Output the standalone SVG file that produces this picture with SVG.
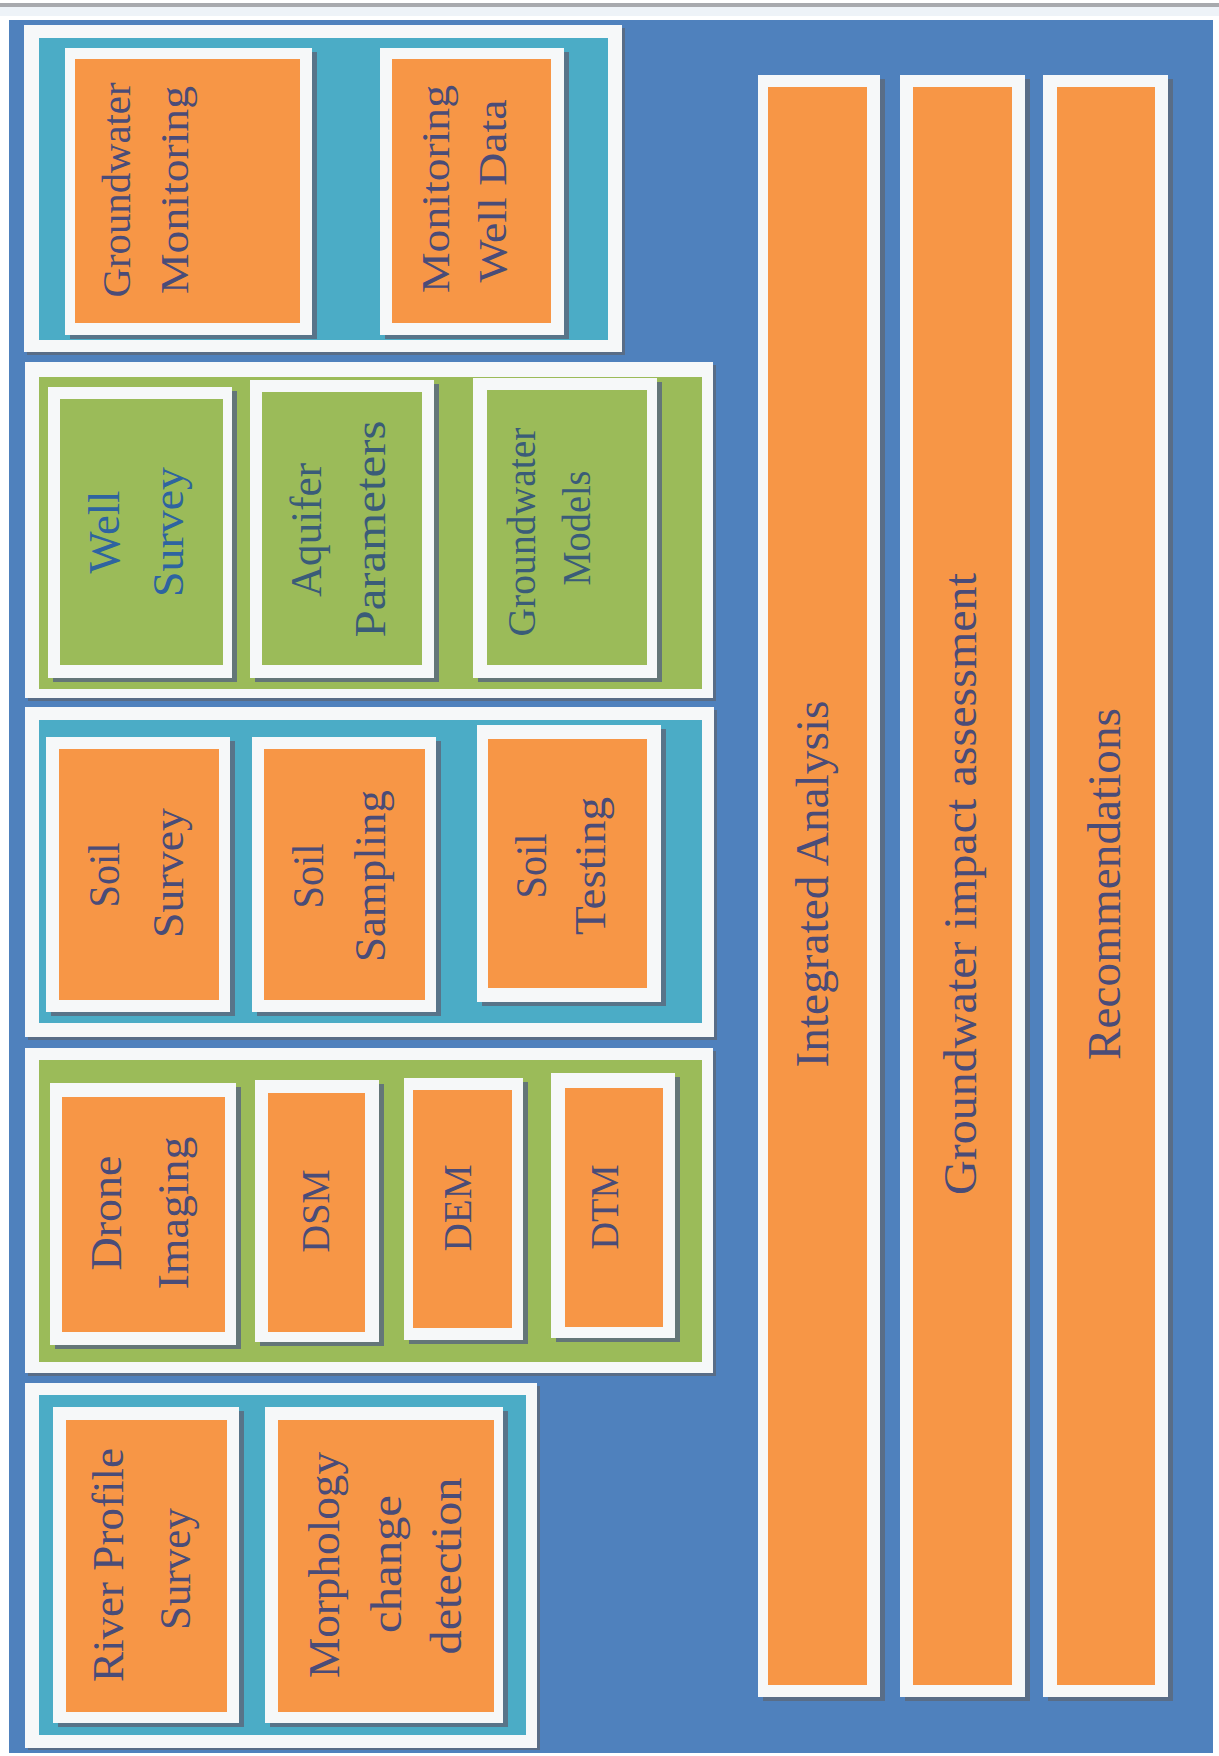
<svg xmlns="http://www.w3.org/2000/svg" width="1219" height="1756" viewBox="0 0 1219 1756">
<style>
.frame{fill:#F6F8F9}
.sh{fill:#5A6A7E;opacity:0.85}
.org{fill:#F79646}
.grn{fill:#9BBB59}
.teal{fill:#4BACC6}
.t{font-family:"Liberation Serif","Times New Roman",serif;fill:#4A4C78;text-anchor:middle}
.tb{fill:#2E64A0}
.tg{fill:#3A5C78}
</style>
<rect x="0" y="0" width="1219" height="1756" fill="#FFFFFF"/>
<rect x="0" y="3" width="1219" height="4" fill="#A8AAAE"/>
<rect x="0" y="7" width="1219" height="9" fill="#EEF3F8"/>
<rect x="9" y="20" width="1204" height="1733" fill="#4F81BD"/>

<g id="group1">
<rect class="sh" x="27" y="28" width="598" height="327"/>
<rect class="frame" x="24" y="25" width="598" height="327"/>
<rect class="teal" x="39" y="38" width="569" height="302"/>
</g>
<g id="group2">
<rect class="sh" x="28" y="365" width="688" height="336"/>
<rect class="frame" x="25" y="362" width="688" height="336"/>
<rect class="grn" x="39" y="377" width="663" height="312"/>
</g>
<g id="group3">
<rect class="sh" x="28" y="710" width="689" height="330"/>
<rect class="frame" x="25" y="707" width="689" height="330"/>
<rect class="teal" x="39" y="720" width="663" height="303"/>
</g>
<g id="group4">
<rect class="sh" x="28" y="1051" width="688" height="325"/>
<rect class="frame" x="25" y="1048" width="688" height="325"/>
<rect class="grn" x="39" y="1060" width="663" height="302"/>
</g>
<g id="group5">
<rect class="sh" x="28" y="1386" width="512" height="364"/>
<rect class="frame" x="25" y="1383" width="512" height="365"/>
<rect class="teal" x="39" y="1395" width="487" height="340"/>
</g>

<g id="groundwater-monitoring">
<rect class="sh" x="70" y="52" width="247" height="287"/>
<rect class="frame" x="65" y="48" width="247" height="287"/>
<rect class="org" x="75" y="59" width="225" height="264"/>
<text class="t" font-size="41" transform="translate(130,190) rotate(-90)" textLength="215" lengthAdjust="spacingAndGlyphs">Groundwater</text>
<text class="t" font-size="41" transform="translate(188,190) rotate(-90)" textLength="208" lengthAdjust="spacingAndGlyphs">Monitoring</text>
</g>
<g id="monitoring-well-data">
<rect class="sh" x="385" y="52" width="184" height="287"/>
<rect class="frame" x="380" y="48" width="184" height="287"/>
<rect class="org" x="392" y="59" width="159" height="264"/>
<text class="t" font-size="41" transform="translate(449,189) rotate(-90)" textLength="208" lengthAdjust="spacingAndGlyphs">Monitoring</text>
<text class="t" font-size="41" transform="translate(506,191) rotate(-90)" textLength="183" lengthAdjust="spacingAndGlyphs">Well Data</text>
</g>

<g id="well-survey">
<rect class="sh" x="53" y="391" width="184" height="291"/>
<rect class="frame" x="48" y="387" width="184" height="291"/>
<rect class="grn" x="60" y="399" width="163" height="266"/>
<text class="t tb" font-size="44" transform="translate(119,532) rotate(-90)" textLength="83" lengthAdjust="spacingAndGlyphs">Well</text>
<text class="t tb" font-size="44" transform="translate(183,532) rotate(-90)" textLength="130" lengthAdjust="spacingAndGlyphs">Survey</text>
</g>
<g id="aquifer-parameters">
<rect class="sh" x="255" y="384" width="184" height="298"/>
<rect class="frame" x="250" y="380" width="184" height="298"/>
<rect class="grn" x="262" y="392" width="160" height="273"/>
<text class="t tg" font-size="44" transform="translate(321,530) rotate(-90)" textLength="134" lengthAdjust="spacingAndGlyphs">Aquifer</text>
<text class="t tg" font-size="44" transform="translate(385,529) rotate(-90)" textLength="217" lengthAdjust="spacingAndGlyphs">Parameters</text>
</g>
<g id="groundwater-models">
<rect class="sh" x="478" y="382" width="184" height="300"/>
<rect class="frame" x="473" y="378" width="184" height="300"/>
<rect class="grn" x="487" y="390" width="160" height="275"/>
<text class="t tg" font-size="39" transform="translate(535,532) rotate(-90)" textLength="209" lengthAdjust="spacingAndGlyphs">Groundwater</text>
<text class="t tg" font-size="39" transform="translate(590,528) rotate(-90)" textLength="115" lengthAdjust="spacingAndGlyphs">Models</text>
</g>

<g id="soil-survey">
<rect class="sh" x="51" y="741" width="184" height="275"/>
<rect class="frame" x="46" y="737" width="184" height="275"/>
<rect class="org" x="59" y="749" width="160" height="251"/>
<text class="t" font-size="44" transform="translate(119,875) rotate(-90)" textLength="65" lengthAdjust="spacingAndGlyphs">Soil</text>
<text class="t" font-size="44" transform="translate(183,873) rotate(-90)" textLength="130" lengthAdjust="spacingAndGlyphs">Survey</text>
</g>
<g id="soil-sampling">
<rect class="sh" x="257" y="741" width="184" height="275"/>
<rect class="frame" x="252" y="737" width="184" height="275"/>
<rect class="org" x="264" y="749" width="161" height="251"/>
<text class="t" font-size="44" transform="translate(323,876) rotate(-90)" textLength="65" lengthAdjust="spacingAndGlyphs">Soil</text>
<text class="t" font-size="44" transform="translate(385,876) rotate(-90)" textLength="172" lengthAdjust="spacingAndGlyphs">Sampling</text>
</g>
<g id="soil-testing">
<rect class="sh" x="482" y="729" width="184" height="277"/>
<rect class="frame" x="477" y="725" width="184" height="277"/>
<rect class="org" x="488" y="739" width="159" height="249"/>
<text class="t" font-size="44" transform="translate(546,866) rotate(-90)" textLength="65" lengthAdjust="spacingAndGlyphs">Soil</text>
<text class="t" font-size="44" transform="translate(605,866) rotate(-90)" textLength="138" lengthAdjust="spacingAndGlyphs">Testing</text>
</g>

<g id="drone-imaging">
<rect class="sh" x="55" y="1087" width="186" height="262"/>
<rect class="frame" x="50" y="1083" width="186" height="262"/>
<rect class="org" x="62" y="1097" width="163" height="235"/>
<text class="t" font-size="45" transform="translate(121,1213) rotate(-90)" textLength="115" lengthAdjust="spacingAndGlyphs">Drone</text>
<text class="t" font-size="45" transform="translate(188,1213) rotate(-90)" textLength="153" lengthAdjust="spacingAndGlyphs">Imaging</text>
</g>
<g id="dsm">
<rect class="sh" x="260" y="1084" width="124" height="262"/>
<rect class="frame" x="255" y="1080" width="124" height="262"/>
<rect class="org" x="268" y="1093" width="97" height="239"/>
<text class="t" font-size="40" transform="translate(329,1211) rotate(-90)" textLength="83" lengthAdjust="spacingAndGlyphs">DSM</text>
</g>
<g id="dem">
<rect class="sh" x="409" y="1082" width="119" height="262"/>
<rect class="frame" x="404" y="1078" width="119" height="262"/>
<rect class="org" x="413" y="1090" width="99" height="238"/>
<text class="t" font-size="40" transform="translate(471,1208) rotate(-90)" textLength="87" lengthAdjust="spacingAndGlyphs">DEM</text>
</g>
<g id="dtm">
<rect class="sh" x="556" y="1077" width="124" height="265"/>
<rect class="frame" x="551" y="1073" width="124" height="265"/>
<rect class="org" x="565" y="1088" width="98" height="239"/>
<text class="t" font-size="40" transform="translate(618,1207) rotate(-90)" textLength="85" lengthAdjust="spacingAndGlyphs">DTM</text>
</g>

<g id="river-profile-survey">
<rect class="sh" x="58" y="1411" width="186" height="316"/>
<rect class="frame" x="53" y="1407" width="186" height="316"/>
<rect class="org" x="66" y="1420" width="161" height="292"/>
<text class="t" font-size="45" transform="translate(123,1565) rotate(-90)" textLength="234" lengthAdjust="spacingAndGlyphs">River Profile</text>
<text class="t" font-size="45" transform="translate(190,1569) rotate(-90)" textLength="122" lengthAdjust="spacingAndGlyphs">Survey</text>
</g>
<g id="morphology-change-detection">
<rect class="sh" x="270" y="1411" width="238" height="316"/>
<rect class="frame" x="265" y="1407" width="238" height="316"/>
<rect class="org" x="278" y="1420" width="216" height="292"/>
<text class="t" font-size="45" transform="translate(339,1565) rotate(-90)" textLength="226" lengthAdjust="spacingAndGlyphs">Morphology</text>
<text class="t" font-size="45" transform="translate(401,1564) rotate(-90)" textLength="138" lengthAdjust="spacingAndGlyphs">change</text>
<text class="t" font-size="45" transform="translate(461,1566) rotate(-90)" textLength="177" lengthAdjust="spacingAndGlyphs">detection</text>
</g>

<g id="integrated-analysis">
<rect class="sh" x="763" y="79" width="122" height="1622"/>
<rect class="frame" x="758" y="75" width="122" height="1622"/>
<rect class="org" x="768" y="87" width="99" height="1598"/>
<text class="t" font-size="47" transform="translate(828,884) rotate(-90)" textLength="367" lengthAdjust="spacingAndGlyphs">Integrated Analysis</text>
</g>
<g id="groundwater-impact-assessment">
<rect class="sh" x="905" y="79" width="125" height="1622"/>
<rect class="frame" x="900" y="75" width="125" height="1622"/>
<rect class="org" x="913" y="87" width="99" height="1598"/>
<text class="t" font-size="47" transform="translate(976,884) rotate(-90)" textLength="622" lengthAdjust="spacingAndGlyphs">Groundwater impact assessment</text>
</g>
<g id="recommendations">
<rect class="sh" x="1048" y="79" width="125" height="1622"/>
<rect class="frame" x="1043" y="75" width="125" height="1622"/>
<rect class="org" x="1057" y="87" width="98" height="1598"/>
<text class="t" font-size="47" transform="translate(1120,884) rotate(-90)" textLength="352" lengthAdjust="spacingAndGlyphs">Recommendations</text>
</g>

<g id="connectors"></g>
</svg>
